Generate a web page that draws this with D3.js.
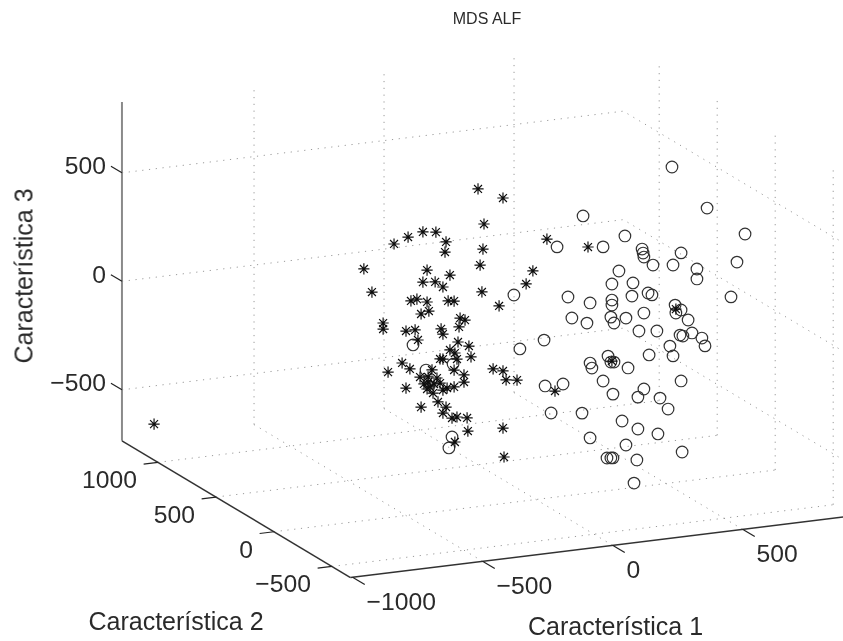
<!DOCTYPE html>
<html>
<head>
<meta charset="utf-8">
<script src="https://cdn.jsdelivr.net/npm/d3@7"></script>
<style>
  html, body { margin: 0; padding: 0; background: #fff; }
  text { font-family: "Liberation Sans", Arial, sans-serif; fill: #2b2b2b; }
</style>
</head>
<body>
<div id="chart"></div>
<script>
// clase 1 (asteriscos): caracteristica 1 y 3, caracteristica 2 se deja en 0
var starsC1 = [-223,-127,-200,42,-204,200,-346,-350,-385,-435,-492,-546,-662,-631,-419,-331,-215,-12,-38,-208,-142,-435,-388,-358,-481,-458,-419,-338,-315,-412,-442,-292,-273,-296,-588,-588,-500,-465,-365,-358,-454,-300,-258,-250,-312,-331,-304,-369,-358,-515,-485,-569,-400,-315,-277,-277,-446,-415,-415,-408,-419,-381,-369,-358,-342,-315,-500,-377,-442,-346,-358,-323,-304,-265,-262,-127,-312,-123,-165,-127,-115,-73,73,-1469,292,538,-392,-431,-396];
var starsC3 = [729,673,564,459,449,399,503,457,554,562,547,523,425,314,384,348,377,320,264,252,178,331,325,297,251,256,237,230,226,194,185,144,132,104,165,137,115,115,105,80,67,35,10,-41,-14,3,-43,-33,-35,-30,-62,-64,-79,-92,-120,-153,-105,-109,-132,-156,-164,-119,-144,-178,-171,-170,-148,-230,-244,-258,-284,-312,-310,-320,-381,-387,-424,-521,-109,-124,-167,-174,-246,-171,-140,63,-145,-139,-186];

// clase 2 (circulos)
var circlesC1 = [181,81,-85,123,138,196,208,31,-62,-473,-423,-319,-323,-335,35,104,58,177,208,208,523,658,804,773,750,258,342,408,412,415,450,558,527,619,619,319,292,373,369,431,446,292,292,288,300,346,415,396,465,535,538,558,585,600,554,565,638,650,515,527,435,277,288,300,215,354,258,558,296,415,392,477,508,331,392,469,346,562,388,273,288,296,377];
var circlesC3 = [545,417,220,180,81,49,140,-5,-32,47,-76,-64,-399,-448,-217,-218,-345,-363,-482,-137,720,511,370,245,88,391,429,359,340,321,279,319,268,236,190,271,215,208,148,153,142,141,118,63,34,50,63,-17,-27,82,45,56,6,-56,-59,-65,-85,-123,-104,-151,-133,-115,-144,-146,-161,-181,-227,-271,-293,-287,-321,-338,-393,-422,-468,-502,-535,-599,-610,-584,-586,-587,-715];

var ticksC1 = [-1000, -500, 0, 500];
var ticksC2 = [-500, 0, 500, 1000];
var ticksC3 = [-500, 0, 500];
var limC1 = [-1008, 920];
var limC2 = [-660, 1310];
var limC3 = [-735, 827];

var width = 843, height = 641;

// cada eje aporta un desplazamiento horizontal y otro vertical en la vista 3D
var c1H = d3.scaleLinear().domain([0, 1000]).range([0, 260]);
var c1V = d3.scaleLinear().domain([0, 1000]).range([0, -32]);
var c2H = d3.scaleLinear().domain([0, 1000]).range([0, -116]);
var c2V = d3.scaleLinear().domain([0, 1000]).range([0, -69.4]);
var c3V = d3.scaleLinear().domain([0, 1000]).range([0, -217]);
var originX = 536, originY = 340;

function px(a, b, c) { return originX + c1H(a) + c2H(b); }
function py(a, b, c) { return originY + c1V(a) + c2V(b) + c3V(c); }
function pt(a, b, c) { return [px(a, b, c), py(a, b, c)]; }

var line = d3.line();

var svg = d3.select("#chart").append("svg")
  .attr("width", width)
  .attr("height", height);

var defs = svg.append("defs");
defs.append("filter").attr("id", "soft")
  .append("feGaussianBlur").attr("stdDeviation", 0.55);
defs.append("filter").attr("id", "softText")
  .append("feGaussianBlur").attr("stdDeviation", 0.4);

var plot = svg.append("g").attr("filter", "url(#soft)");

// rejilla punteada: paredes del fondo y suelo
var gridLines = [];
ticksC1.slice(1).forEach(function(v) {
  gridLines.push([pt(v, limC2[1], limC3[0]), pt(v, limC2[1], limC3[1])]);
  gridLines.push([pt(v, limC2[0], limC3[0]), pt(v, limC2[1], limC3[0])]);
});
ticksC2.forEach(function(v) {
  gridLines.push([pt(limC1[1], v, limC3[0]), pt(limC1[1], v, limC3[1])]);
  gridLines.push([pt(limC1[0], v, limC3[0]), pt(limC1[1], v, limC3[0])]);
});
ticksC3.forEach(function(v) {
  gridLines.push([pt(limC1[0], limC2[1], v), pt(limC1[1], limC2[1], v), pt(limC1[1], limC2[0], v)]);
});

plot.append("g").selectAll("path")
  .data(gridLines)
  .enter().append("path")
  .attr("d", line)
  .attr("fill", "none")
  .attr("stroke", "#999")
  .attr("stroke-width", 1)
  .attr("stroke-dasharray", "1.2 5.6");

// ejes
var axisLines = [
  { d: [pt(limC1[0], limC2[1], limC3[0]), pt(limC1[0], limC2[1], limC3[1])], color: "#8a8a8a", w: 2 },
  { d: [pt(limC1[0], limC2[1], limC3[0]), pt(limC1[0], limC2[0], limC3[0])], color: "#333", w: 1.5 },
  { d: [pt(limC1[0], limC2[0], limC3[0]), pt(limC1[1], limC2[0], limC3[0])], color: "#333", w: 1.5 }
];
plot.append("g").selectAll("path")
  .data(axisLines)
  .enter().append("path")
  .attr("d", function(d) { return line(d.d); })
  .attr("fill", "none")
  .attr("stroke", function(d) { return d.color; })
  .attr("stroke-width", function(d) { return d.w; });

// marcas de los ejes
var tickMarks = [];
ticksC1.forEach(function(v) {
  tickMarks.push([pt(v, limC2[0], limC3[0]), pt(v, limC2[0] - 105, limC3[0])]);
});
ticksC2.forEach(function(v) {
  tickMarks.push([pt(limC1[0], v, limC3[0]), pt(limC1[0] - 55, v, limC3[0])]);
});
ticksC3.forEach(function(v) {
  tickMarks.push([pt(limC1[0], limC2[1], v), pt(limC1[0], limC2[1] + 95, v)]);
});
plot.append("g").selectAll("path")
  .data(tickMarks)
  .enter().append("path")
  .attr("d", line)
  .attr("fill", "none")
  .attr("stroke", "#222")
  .attr("stroke-width", 1.2);

// asterisco de cuatro trazos
function starPath(r) {
  var p = d3.path();
  [0, 45, 90, 135].forEach(function(a) {
    var t = a * Math.PI / 180;
    p.moveTo(-r * Math.cos(t), -r * Math.sin(t));
    p.lineTo(r * Math.cos(t), r * Math.sin(t));
  });
  return p.toString();
}

var marks = plot.append("g");

marks.selectAll("circle")
  .data(d3.range(circlesC1.length))
  .enter().append("circle")
  .attr("cx", function(i) { return px(circlesC1[i], 0, circlesC3[i]); })
  .attr("cy", function(i) { return py(circlesC1[i], 0, circlesC3[i]); })
  .attr("r", 5.8)
  .attr("fill", "none")
  .attr("stroke", "#333")
  .attr("stroke-width", 1.2);

marks.selectAll("path.star")
  .data(d3.range(starsC1.length))
  .enter().append("path")
  .attr("class", "star")
  .attr("transform", function(i) {
    return "translate(" + px(starsC1[i], 0, starsC3[i]) + "," + py(starsC1[i], 0, starsC3[i]) + ")";
  })
  .attr("d", starPath(5.6))
  .attr("fill", "none")
  .attr("stroke", "#111")
  .attr("stroke-width", 1.2);

// etiquetas de los ejes
function fmt(v) { return v < 0 ? "\u2212" + Math.abs(v) : "" + v; }

var tickSize = 24.7;
var labels = svg.append("g").attr("filter", "url(#softText)");

labels.append("g").selectAll("text")
  .data(ticksC1)
  .enter().append("text")
  .attr("x", function(v) { return px(v, limC2[0], limC3[0]) + 14; })
  .attr("y", function(v) { return py(v, limC2[0], limC3[0]) + 33; })
  .attr("font-size", tickSize)
  .text(fmt);

labels.append("g").selectAll("text")
  .data(ticksC2)
  .enter().append("text")
  .attr("x", function(v) { return px(limC1[0], v, limC3[0]) - 21; })
  .attr("y", function(v) { return py(limC1[0], v, limC3[0]) + 26; })
  .attr("text-anchor", "end")
  .attr("font-size", tickSize)
  .text(fmt);

labels.append("g").selectAll("text")
  .data(ticksC3)
  .enter().append("text")
  .attr("x", function(v) { return px(limC1[0], limC2[1], v) - 16; })
  .attr("y", function(v) { return py(limC1[0], limC2[1], v) + 1.5; })
  .attr("text-anchor", "end")
  .attr("font-size", tickSize)
  .text(fmt);

labels.append("text").attr("x", 615.5).attr("y", 635)
  .attr("text-anchor", "middle").attr("font-size", 25).text("Caracter\u00edstica 1");
labels.append("text").attr("x", 176).attr("y", 630)
  .attr("text-anchor", "middle").attr("font-size", 25).text("Caracter\u00edstica 2");
labels.append("text").attr("transform", "translate(32.5,276) rotate(-90)")
  .attr("text-anchor", "middle").attr("font-size", 25).text("Caracter\u00edstica 3");
labels.append("text").attr("x", 487).attr("y", 24)
  .attr("text-anchor", "middle").attr("font-size", 16).text("MDS ALF");
</script>
</body>
</html>
